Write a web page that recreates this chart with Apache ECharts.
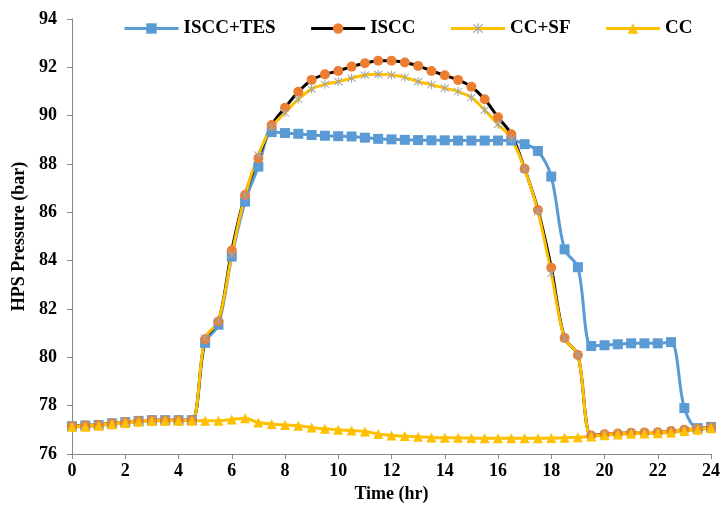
<!DOCTYPE html>
<html><head><meta charset="utf-8">
<script src="https://cdn.jsdelivr.net/npm/echarts@6/dist/echarts.min.js"></script>
<style>html,body{margin:0;padding:0;background:#fff}#c{width:723px;height:513px}</style>
</head><body><div id="c"></div>
<script>
var times = [0,0.5,1,1.5,2,2.5,3,3.5,4,4.5,5,5.5,6,6.5,7,7.5,8,8.5,9,9.5,10,10.5,11,11.5,12,12.5,13,13.5,14,14.5,15,15.5,16,16.5,17,17.5,18,18.5,19,19.5,20,20.5,21,21.5,22,22.5,23,23.5,24];
var isccTes = [77.15,77.18,77.2,77.27,77.32,77.37,77.4,77.4,77.4,77.4,80.6,81.35,84.17,86.44,87.89,89.32,89.28,89.25,89.2,89.17,89.15,89.14,89.09,89.04,89.02,89.0,88.99,88.98,88.98,88.97,88.97,88.97,88.97,88.97,88.82,88.54,87.48,84.47,83.73,80.47,80.5,80.54,80.58,80.58,80.58,80.63,77.9,77.07,77.12];
var iscc = [77.15,77.18,77.2,77.27,77.32,77.37,77.4,77.4,77.4,77.4,80.75,81.48,84.42,86.72,88.24,89.61,90.33,90.99,91.48,91.71,91.85,92.03,92.17,92.27,92.27,92.2,92.06,91.85,91.67,91.48,91.2,90.68,89.93,89.23,87.8,86.1,83.71,80.8,80.1,76.77,76.82,76.85,76.88,76.89,76.9,76.95,77.0,77.05,77.1];
var ccSf = [77.15,77.18,77.2,77.27,77.32,77.37,77.4,77.4,77.4,77.4,80.8,81.5,84.25,86.7,88.37,89.52,90.12,90.68,91.1,91.3,91.41,91.55,91.68,91.71,91.68,91.59,91.41,91.28,91.14,91.0,90.75,90.23,89.64,89.06,87.78,86.03,83.48,80.79,80.1,76.75,76.82,76.85,76.88,76.89,76.9,76.95,77.0,77.05,77.1];
var cc = [77.13,77.13,77.17,77.23,77.28,77.33,77.37,77.38,77.38,77.38,77.38,77.38,77.43,77.48,77.3,77.24,77.2,77.17,77.1,77.04,77.0,76.97,76.93,76.83,76.77,76.74,76.71,76.68,76.67,76.67,76.66,76.65,76.65,76.65,76.65,76.65,76.66,76.67,76.69,76.72,76.78,76.81,76.84,76.85,76.86,76.89,76.95,77.0,77.07];
var seriesNames = ['ISCC+TES','ISCC','CC+SF','CC'];
var xTicks = {min:0, max:24, interval:2};
var yTicks = {min:76, max:94, interval:2};

function pairs(v){ return times.map(function(t,i){ return [t, v[i]]; }); }
var FONT = '"Liberation Serif", "Times New Roman", serif';
var asterisk = 'path://M9,0 L11,0 L11,20 L9,20 Z M1.5,3 L3,1.5 L18.5,17 L17,18.5 Z M17,1.5 L18.5,3 L3,18.5 L1.5,17 Z';
var axisCol = '#898989';
var sm = 0.33;

var chart = echarts.init(document.getElementById('c'), null, {renderer:'canvas'});
chart.setOption({
  animation:false,
  backgroundColor:'#fff',
  grid:{left:72, right:12, top:19, bottom:59, containLabel:false},
  legend:{
    left:118, top:14, itemWidth:54, itemHeight:13, itemGap:34,
    lineStyle:{width:3},
    textStyle:{fontFamily:FONT, fontWeight:'bold', fontSize:19, color:'#000'},
    data:seriesNames
  },
  xAxis:{
    type:'value', min:xTicks.min, max:xTicks.max, interval:xTicks.interval,
    name:'Time (hr)', nameLocation:'middle', nameGap:25,
    nameTextStyle:{fontFamily:FONT, fontWeight:'bold', fontSize:18, color:'#000'},
    axisLine:{show:true, lineStyle:{color:axisCol, width:1}},
    axisTick:{show:true, length:5, lineStyle:{color:axisCol}},
    axisLabel:{fontFamily:FONT, fontWeight:'bold', fontSize:18, color:'#000', margin:8},
    splitLine:{show:false}
  },
  yAxis:{
    type:'value', min:yTicks.min, max:yTicks.max, interval:yTicks.interval,
    name:'HPS Pressure (bar)', nameLocation:'middle', nameGap:41, nameRotate:90,
    nameTextStyle:{fontFamily:FONT, fontWeight:'bold', fontSize:18, color:'#000'},
    axisLine:{show:true, lineStyle:{color:axisCol, width:1}},
    axisTick:{show:true, length:5, lineStyle:{color:axisCol}},
    axisLabel:{fontFamily:FONT, fontWeight:'bold', fontSize:18, color:'#000', margin:15},
    splitLine:{show:false}
  },
  series:[
    {name:seriesNames[0], type:'line', data:pairs(isccTes), smooth:sm,
     symbol:'rect', symbolSize:10, showAllSymbol:true,
     lineStyle:{color:'#5B9BD5', width:3}, itemStyle:{color:'#5B9BD5'}},
    {name:seriesNames[1], type:'line', data:pairs(iscc), smooth:sm,
     symbol:'circle', symbolSize:10, showAllSymbol:true,
     lineStyle:{color:'#000', width:3}, itemStyle:{color:'#ED7D31'}},
    {name:seriesNames[2], type:'line', data:pairs(ccSf), smooth:sm,
     symbol:asterisk, symbolSize:9, showAllSymbol:true,
     lineStyle:{color:'#FFC000', width:3}, itemStyle:{color:'#A5A5A5'}},
    {name:seriesNames[3], type:'line', data:pairs(cc), smooth:sm,
     symbol:'triangle', symbolSize:10, showAllSymbol:true,
     lineStyle:{color:'#FFC000', width:3}, itemStyle:{color:'#FFC000'}}
  ]
});
</script></body></html>
